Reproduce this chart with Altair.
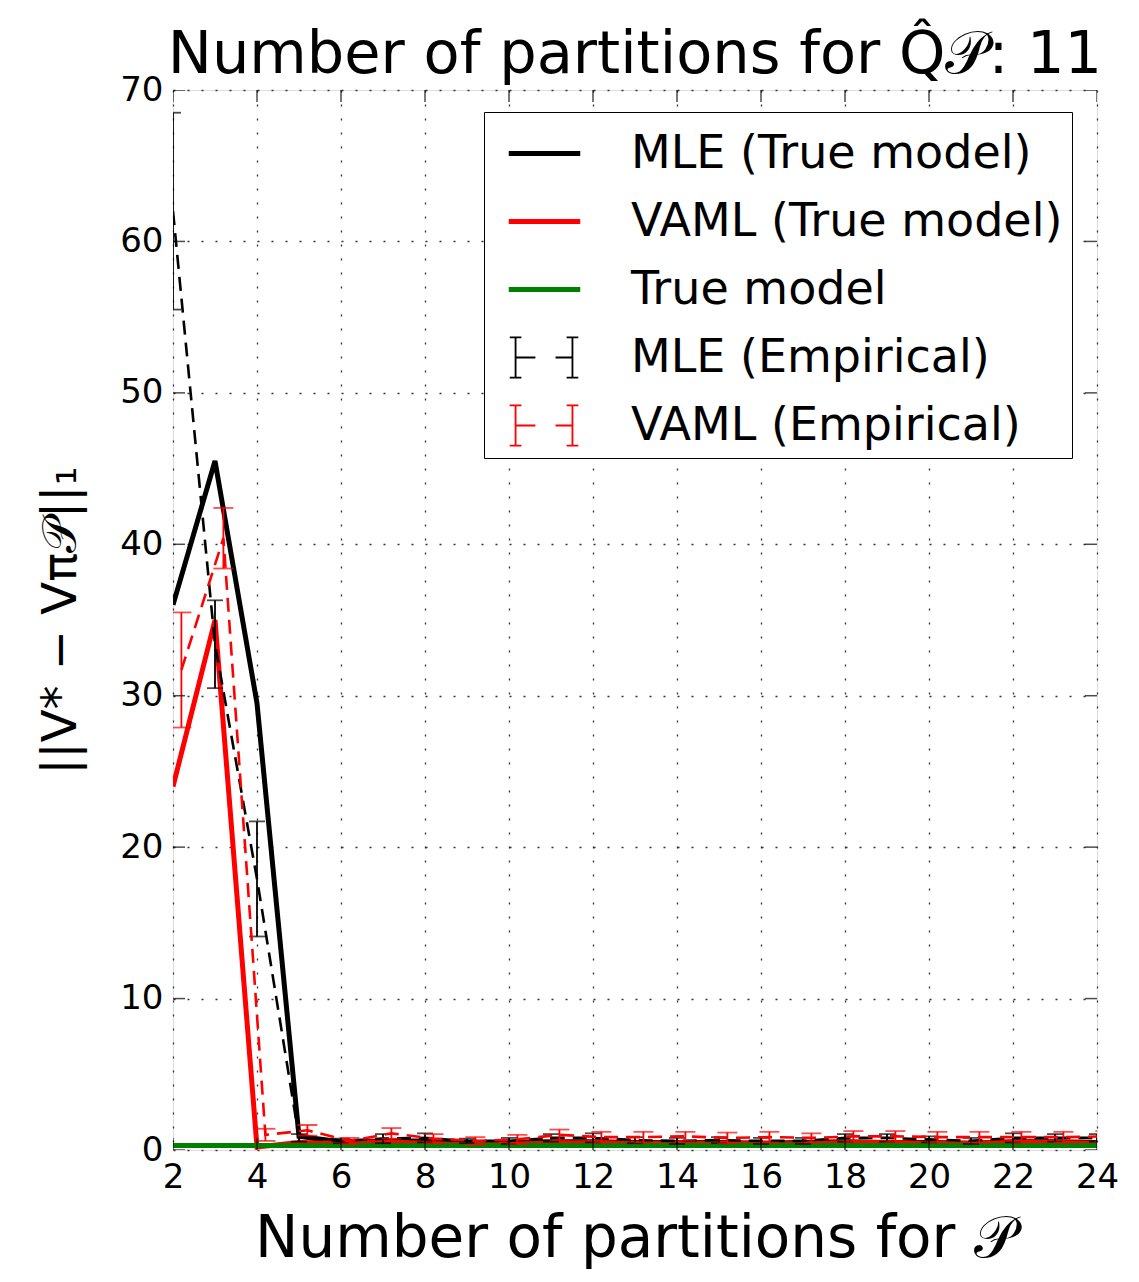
import altair as alt
import pandas as pd

# ---------------- data ----------------
x_vals = [2, 3, 4, 5, 6, 7, 8, 9, 10, 11, 12, 13, 14, 15, 16, 17, 18, 19, 20, 21, 22, 23, 24]

mle_true = [36.0, 45.5, 29.5, 0.9, 0.55, 0.6, 0.6, 0.5, 0.5, 0.55, 0.55, 0.5, 0.5, 0.5,
            0.45, 0.5, 0.55, 0.5, 0.5, 0.45, 0.55, 0.55, 0.5]
vaml_true = [24.0, 35.0, 0.2, 0.5, 0.45, 0.55, 0.45, 0.35, 0.4, 0.45, 0.5, 0.45, 0.45, 0.45,
             0.45, 0.4, 0.5, 0.5, 0.45, 0.45, 0.5, 0.5, 0.45]
true_model = [0.3, 0.3, 0.3, 0.3, 0.3, 0.3, 0.3, 0.3, 0.3, 0.3, 0.3, 0.3, 0.3, 0.3,
              0.3, 0.3, 0.3, 0.3, 0.3, 0.3, 0.3, 0.3, 0.3]

mle_emp_mean = [62.0, 33.4, 17.9, 0.8, 0.6, 0.75, 0.8, 0.6, 0.6, 0.8, 0.8, 0.65, 0.6, 0.65,
                0.6, 0.6, 0.8, 0.8, 0.7, 0.6, 0.8, 0.8, 0.8]
mle_emp_err = [6.5, 2.9, 3.8, 0.25, 0.15, 0.3, 0.3, 0.15, 0.2, 0.25, 0.3, 0.2, 0.2, 0.2,
               0.2, 0.2, 0.25, 0.25, 0.2, 0.2, 0.3, 0.25, 0.25]

vaml_emp_x = [2.2, 3.2, 4.2, 5.2, 6.2, 7.2, 8.2, 9.2, 10.2, 11.2, 12.2, 13.2, 14.2, 15.2,
              16.2, 17.2, 18.2, 19.2, 20.2, 21.2, 22.2, 23.2, 24.2]
vaml_emp_mean = [31.7, 40.4, 1.0, 1.3, 0.6, 1.1, 0.75, 0.6, 0.7, 1.0, 0.85, 0.85, 0.9, 0.8,
                 0.85, 0.8, 0.9, 0.9, 0.85, 0.85, 0.85, 0.85, 0.9]
vaml_emp_err = [3.8, 2.0, 0.4, 0.35, 0.2, 0.35, 0.3, 0.25, 0.3, 0.35, 0.35, 0.35, 0.3, 0.35,
                0.35, 0.3, 0.35, 0.35, 0.35, 0.35, 0.35, 0.35, 0.35]

series_names = ["MLE (True model)", "VAML (True model)", "True model",
                "MLE (Empirical)", "VAML (Empirical)"]
series_colors = ["#000000", "#ff0000", "#008000", "#000000", "#ff0000"]

x_ticks = [2, 4, 6, 8, 10, 12, 14, 16, 18, 20, 22, 24]
y_ticks = [0, 10, 20, 30, 40, 50, 60, 70]

title_text = "Number of partitions for Q\u0302\U0001D4AB: 11"
x_title = "Number of partitions for \U0001D4AB"
y_title = "||V* \u2212 V\u03c0\U0001D4AB||\u2081"

# ---------------- tables ----------------
def line_table(name, xs, ys):
    return pd.DataFrame({"series": name, "x": xs, "y": ys})

def emp_table(name, xs, m, e):
    return pd.DataFrame({"series": name, "x": xs, "y": m,
                         "lo": [a - b for a, b in zip(m, e)],
                         "hi": [a + b for a, b in zip(m, e)]})

mle_df = line_table(series_names[0], x_vals, mle_true)
vaml_df = line_table(series_names[1], x_vals, vaml_true)
true_df = line_table(series_names[2], x_vals, true_model)
mle_emp = emp_table(series_names[3], x_vals, mle_emp_mean, mle_emp_err)
vaml_emp = emp_table(series_names[4], vaml_emp_x, vaml_emp_mean, vaml_emp_err)
all_df = pd.concat([mle_df, vaml_df, true_df, mle_emp[["series", "x", "y"]],
                    vaml_emp[["series", "x", "y"]]], ignore_index=True)

W, H = 924, 1060
FONT = "DejaVu Sans"

# ---------------- legend glyphs (filled outlines, unit = symbol radius) ----------------
R = 32.5  # sqrt(symbolSize)/2

def hseg(x1, x2, y, t):
    h = t / 2 / R
    return f"M{x1:.3f},{y-h:.3f}L{x2:.3f},{y-h:.3f}L{x2:.3f},{y+h:.3f}L{x1:.3f},{y+h:.3f}Z"

def vseg(x, y1, y2, t):
    w = t / 2 / R
    return f"M{x-w:.3f},{y1:.3f}L{x+w:.3f},{y1:.3f}L{x+w:.3f},{y2:.3f}L{x-w:.3f},{y2:.3f}Z"

line_glyph = hseg(-1.1, 1.1, 0, 5)
t = 1.8
bar_glyph = (hseg(-1.07, -0.71, -0.62, t) + vseg(-0.89, -0.62, 0.62, t) + hseg(-1.07, -0.71, 0.62, t)
             + hseg(-0.89, -0.28, 0, t)
             + hseg(0.68, 1.04, -0.62, t) + vseg(0.86, -0.62, 0.62, t) + hseg(0.68, 1.04, 0.62, t)
             + hseg(0.34, 0.86, 0, t))
series_shapes = [line_glyph, line_glyph, line_glyph, bar_glyph, bar_glyph]

legend = alt.Legend(
    title=None, orient="none", legendX=311, legendY=22,
    labelFont=FONT, labelFontSize=46, labelColor="black", labelOffset=54, labelLimit=800,
    symbolSize=int((2 * R) ** 2), symbolStrokeWidth=0, symbolOffset=19,
    padding=9, rowPadding=12,
    strokeColor="black", fillColor="white", cornerRadius=0,
)

color_scale = alt.Scale(domain=series_names, range=series_colors)
shape_scale = alt.Scale(domain=series_names, range=series_shapes)

X = alt.X("x:Q", scale=alt.Scale(domain=[2, 24], nice=False, zero=False),
          axis=alt.Axis(values=x_ticks, title=x_title, format="d",
                        labelFont=FONT, labelFontSize=34, labelColor="black",
                        labelPadding=10, titleFont=FONT, titleFontSize=58,
                        titleFontWeight="normal", titleColor="black", titlePadding=16,
                        ticks=False, domain=False, grid=True, gridColor="#333333",
                        gridDash=[2, 12], gridWidth=1.3, labelFlush=False))
Y = alt.Y("y:Q", scale=alt.Scale(domain=[0, 70], nice=False),
          axis=alt.Axis(values=y_ticks, title=y_title, format="d",
                        labelFont=FONT, labelFontSize=34, labelColor="black",
                        labelPadding=10, titleFont=FONT, titleFontSize=48,
                        titleFontWeight="normal", titleColor="black", titlePadding=34,
                        ticks=False, domain=False, grid=True, gridColor="#333333",
                        gridDash=[2, 12], gridWidth=1.3, labelFlush=False))

C = alt.Color("series:N", scale=color_scale, legend=None)

legend_layer = alt.Chart(all_df).mark_point(filled=True, size=0, opacity=1, clip=True).encode(
    x=X, y=Y,
    color=alt.Color("series:N", scale=color_scale, legend=legend),
    shape=alt.Shape("series:N", scale=shape_scale, legend=legend),
)

def solid(df):
    return alt.Chart(df).mark_line(strokeWidth=5, clip=True).encode(x=X, y=Y, color=C)

def empirical(df, cap):
    dashed = alt.Chart(df).mark_line(strokeWidth=2.6, strokeDash=[14, 8], clip=True).encode(
        x=X, y=Y, color=C)
    bars = alt.Chart(df).mark_rule(strokeWidth=1.8, clip=True).encode(
        x=X, y=alt.Y("lo:Q"), y2="hi:Q", color=C)
    caps_lo = alt.Chart(df).mark_tick(orient="horizontal", size=cap, thickness=1.8, clip=True).encode(
        x=X, y=alt.Y("lo:Q"), color=C)
    caps_hi = alt.Chart(df).mark_tick(orient="horizontal", size=cap, thickness=1.8, clip=True).encode(
        x=X, y=alt.Y("hi:Q"), color=C)
    return [dashed, bars, caps_lo, caps_hi]

xt = pd.DataFrame({"x": x_ticks})
yt = pd.DataFrame({"y": y_ticks})
frame_ticks = [
    alt.Chart(xt).mark_tick(orient="vertical", size=24, thickness=1.5, color="black", clip=True)
    .encode(x=X, y=alt.value(0)),
    alt.Chart(xt).mark_tick(orient="vertical", size=24, thickness=1.5, color="black", clip=True)
    .encode(x=X, y=alt.value(H)),
    alt.Chart(yt).mark_tick(orient="horizontal", size=24, thickness=1.5, color="black", clip=True)
    .encode(y=Y, x=alt.value(0)),
    alt.Chart(yt).mark_tick(orient="horizontal", size=24, thickness=1.5, color="black", clip=True)
    .encode(y=Y, x=alt.value(W)),
]

layers = ([legend_layer, solid(mle_df), solid(vaml_df), solid(true_df)]
          + empirical(mle_emp, 16) + empirical(vaml_emp, 20) + frame_ticks)

chart = alt.layer(*layers).properties(
    width=W, height=H,
    title=alt.TitleParams(text=title_text, font=FONT, fontSize=59, fontWeight="normal",
                          color="black", anchor="middle", offset=0, dy=12),
    autosize=alt.AutoSizeParams(type="none"),
    padding={"left": 165, "top": 82, "right": 34, "bottom": 124},
).configure_view(
    stroke="black", strokeWidth=3
).configure(background="white")

chart.save("out.html", embed_options={"renderer": "svg", "actions": False})
